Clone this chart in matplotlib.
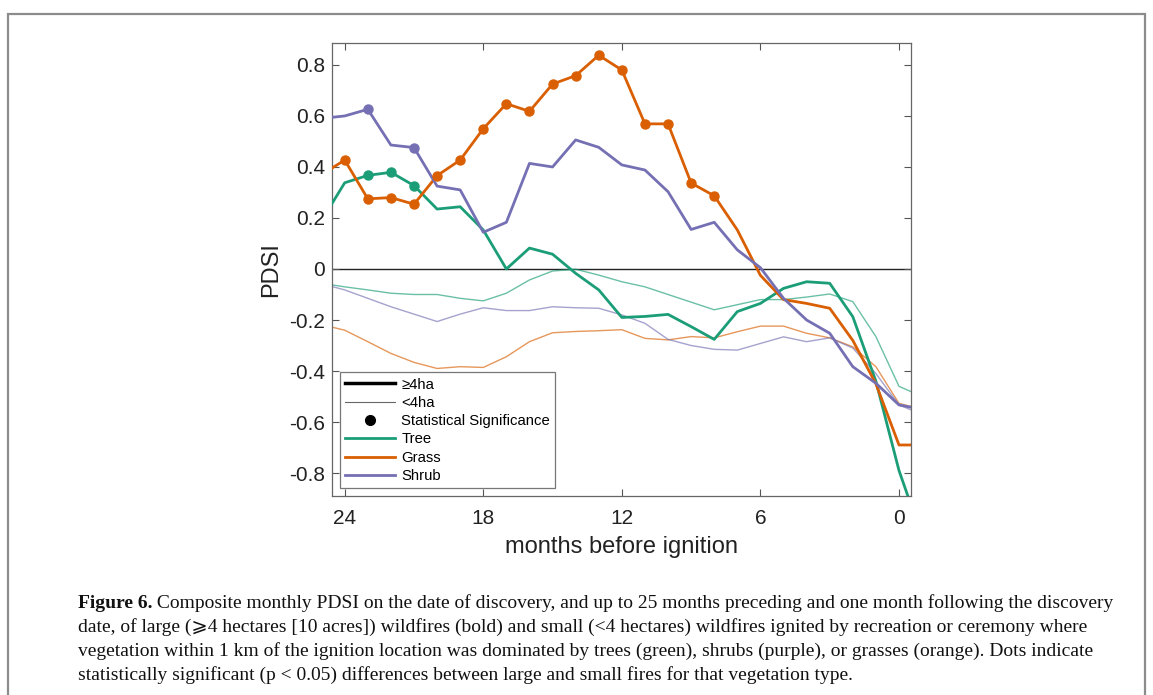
import matplotlib
matplotlib.use("Agg")
import matplotlib.pyplot as plt
from matplotlib.lines import Line2D
from matplotlib.patches import Rectangle

# ---------------- data ----------------
months = [25, 24, 23, 22, 21, 20, 19, 18, 17, 16, 15, 14, 13, 12, 11, 10, 9, 8, 7, 6, 5, 4, 3, 2, 1, 0, -1]

tree_large = [0.19, 0.338, 0.367, 0.379, 0.327, 0.235, 0.244, 0.153, 0.0, 0.082, 0.058, -0.017, -0.082,
              -0.19, -0.186, -0.178, -0.226, -0.276, -0.167, -0.135, -0.076, -0.05, -0.056, -0.187,
              -0.44, -0.79, -1.05]
grass_large = [0.37, 0.427, 0.275, 0.28, 0.254, 0.366, 0.427, 0.55, 0.648, 0.618, 0.725, 0.758, 0.838,
               0.78, 0.569, 0.569, 0.337, 0.287, 0.153, -0.025, -0.12, -0.135, -0.154, -0.28,
               -0.45, -0.69, -0.69]
shrub_large = [0.59, 0.60, 0.626, 0.486, 0.476, 0.325, 0.31, 0.144, 0.183, 0.414, 0.40, 0.506, 0.477,
               0.408, 0.388, 0.303, 0.155, 0.183, 0.075, 0.005, -0.115, -0.2, -0.252, -0.383,
               -0.448, -0.533, -0.55]

tree_small = [-0.056, -0.07, -0.082, -0.095, -0.1, -0.1, -0.115, -0.125, -0.095, -0.043, -0.008, -0.001,
              -0.024, -0.05, -0.07, -0.1, -0.13, -0.16, -0.14, -0.12, -0.12, -0.11, -0.098, -0.128,
              -0.265, -0.46, -0.5]
grass_small = [-0.218, -0.24, -0.285, -0.331, -0.366, -0.39, -0.383, -0.386, -0.344, -0.285, -0.25, -0.245,
               -0.242, -0.238, -0.272, -0.278, -0.265, -0.27, -0.246, -0.224, -0.224, -0.252, -0.27,
               -0.305, -0.383, -0.527, -0.55]
shrub_small = [-0.058, -0.082, -0.115, -0.148, -0.177, -0.206, -0.177, -0.152, -0.163, -0.163, -0.148,
               -0.152, -0.154, -0.18, -0.213, -0.276, -0.3, -0.315, -0.318, -0.292, -0.266, -0.285,
               -0.27, -0.31, -0.41, -0.533, -0.57]

# months with statistically significant differences
tree_sig = [23, 22, 21]
grass_sig = [24, 23, 22, 21, 20, 19, 18, 17, 16, 15, 14, 13, 12, 11, 10, 9, 8]
shrub_sig = [23, 21]

x_ticks = [24, 18, 12, 6, 0]
y_ticks = [-0.8, -0.6, -0.4, -0.2, 0, 0.2, 0.4, 0.6, 0.8]
y_ticklabels = ["-0.8", "-0.6", "-0.4", "-0.2", "0", "0.2", "0.4", "0.6", "0.8"]

legend_labels = ["\u22654ha", "<4ha", "Statistical Significance", "Tree", "Grass", "Shrub"]

caption_bold = "Figure 6."
caption_lines = [
    " Composite monthly PDSI on the date of discovery, and up to 25 months preceding and one month following the discovery",
    "date, of large (\u2a7e4 hectares [10 acres]) wildfires (bold) and small (<4 hectares) wildfires ignited by recreation or ceremony where",
    "vegetation within 1 km of the ignition location was dominated by trees (green), shrubs (purple), or grasses (orange). Dots indicate",
    "statistically significant (p < 0.05) differences between large and small fires for that vegetation type.",
]

# ---------------- style ----------------
GREEN = "#1b9e77"
ORANGE = "#d95f02"
PURPLE = "#7570b3"
SANS = ["Liberation Sans", "DejaVu Sans"]
SERIF = ["Liberation Serif", "DejaVu Serif", "DejaVu Sans"]

plt.rcParams["font.family"] = SANS

W, H = 1153, 695
fig = plt.figure(figsize=(W / 100, H / 100), dpi=100)

# outer frame
fig.patches.append(Rectangle((8 / W, -0.01), (1145 - 8) / W, (H - 14) / H + 0.01,
                             transform=fig.transFigure, fill=False,
                             edgecolor="#8c8c8c", linewidth=1.6))

ax = fig.add_axes([332 / W, 1 - 496 / H, (911 - 332) / W, (496 - 43) / H])

series = [
    (tree_large, tree_small, tree_sig, GREEN),
    (grass_large, grass_small, grass_sig, ORANGE),
    (shrub_large, shrub_small, shrub_sig, PURPLE),
]

ax.axhline(0, color="#222222", linewidth=1.0, zorder=1)

for large, small, sig, col in series:
    ax.plot(months, small, color=col, linewidth=1.0, alpha=0.65, zorder=2)
for large, small, sig, col in series:
    ax.plot(months, large, color=col, linewidth=2.0, zorder=3)
    sx = [m for m in months if m in sig]
    sy = [v for m, v in zip(months, large) if m in sig]
    ax.plot(sx, sy, linestyle="none", marker="o", markersize=6.5, color=col, zorder=4)

ax.set_xlim(24.55, -0.52)
ax.set_ylim(-0.89, 0.886)
ax.set_xticks(x_ticks)
ax.set_xticklabels([str(t) for t in x_ticks])
ax.set_yticks(y_ticks)
ax.set_yticklabels(y_ticklabels)
ax.tick_params(direction="in", top=True, right=True, length=5, width=0.8,
               color="#555555", labelsize=15, labelcolor="#222222")
ax.tick_params(axis="y", pad=5)
ax.tick_params(axis="x", pad=9)
for sp in ax.spines.values():
    sp.set_color("#666666")
    sp.set_linewidth(0.9)

ax.set_xlabel("months before ignition", fontsize=17, color="#222222", labelpad=6)
ax.set_ylabel("PDSI", fontsize=17, color="#222222", labelpad=5)

handles = [
    Line2D([], [], color="black", linewidth=2.5),
    Line2D([], [], color="#666666", linewidth=0.8),
    Line2D([], [], color="black", linestyle="none", marker="o", markersize=7),
    Line2D([], [], color=GREEN, linewidth=2.0),
    Line2D([], [], color=ORANGE, linewidth=2.0),
    Line2D([], [], color=PURPLE, linewidth=2.0),
]
leg = ax.legend(handles, legend_labels, loc="lower left", bbox_to_anchor=(0.013, 0.017),
                fontsize=10.7, frameon=True, fancybox=False, handlelength=3.4,
                handletextpad=0.4, labelspacing=0.29, borderpad=0.35, borderaxespad=0)
leg.get_frame().set_edgecolor("#555555")
leg.get_frame().set_linewidth(0.9)

# caption
y0 = 1 - 608 / H
dy = 24 / H
fs = 14.0
tb = fig.text(78 / W, y0, caption_bold, fontsize=fs, fontweight="bold", family=SERIF,
              va="baseline", ha="left", color="#111111")
ann = plt.annotate(caption_lines[0], xy=(1, 0), xycoords=tb, va="bottom", ha="left",
                   fontsize=fs, family=SERIF, color="#111111", annotation_clip=False)
for i, line in enumerate(caption_lines[1:], start=1):
    fig.text(78 / W, y0 - i * dy, line, fontsize=fs, family=SERIF, va="baseline", ha="left",
             color="#111111")

fig.savefig("out.png", dpi=100)
